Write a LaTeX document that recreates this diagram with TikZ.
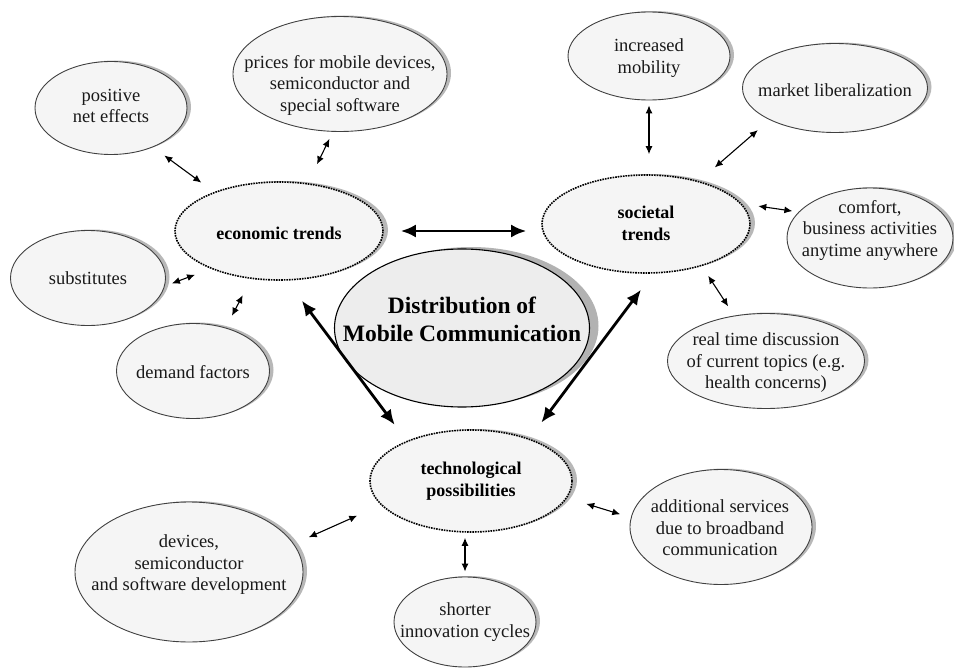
\documentclass[tikz,border=0pt]{standalone}
\usepackage{fontspec}
\setmainfont{Liberation Serif}
\usetikzlibrary{shapes.geometric,arrows.meta,shadows}
\begin{document}
\begin{tikzpicture}[x=1pt,y=-1pt,
  bubble/.style={ellipse, draw=black!75, line width=0.9pt, fill=black!4, inner sep=0pt,
    general shadow={fill=black!28, shadow xshift=4pt, shadow yshift=1pt}},
  trendbubble/.style={ellipse, draw=black, densely dotted, line width=1.6pt, fill=black!4, inner sep=0pt,
    general shadow={fill=black!28, shadow xshift=5pt, shadow yshift=1pt}},
  hub/.style={ellipse, draw=black, line width=1.1pt, fill=black!7, inner sep=0pt,
    general shadow={fill=black!30, shadow xshift=9pt, shadow yshift=2pt}},
  lbl/.style={align=center, inner sep=0pt, text=black!90, font=\fontsize{18.5}{21.5}\selectfont},
  trendlbl/.style={align=center, inner sep=0pt, text=black, font=\bfseries\fontsize{18}{22}\selectfont},
  hublbl/.style={align=center, inner sep=0pt, text=black, font=\bfseries\fontsize{23.5}{28}\selectfont},
  link/.style={{Latex[length=8pt,width=7pt]}-{Latex[length=8pt,width=7pt]}, line width=1.1pt},
  mainlink/.style={{Latex[length=15pt,width=13pt]}-{Latex[length=15pt,width=13pt]}, line width=2.8pt},
]
\useasboundingbox (0,0) rectangle (954,669);

% central topic
\node[hub, minimum width=255pt, minimum height=158pt] (hubnode) at (462,328) {};
\node[hublbl] (hubtext) at (462,319) {Distribution of\\Mobile Communication};

% the three trend groups
\node[trendbubble, minimum width=208pt, minimum height=98pt] (eco) at (279,231) {};
\node[trendlbl] (ecotext) at (279,233) {economic trends};
\node[trendbubble, minimum width=208pt, minimum height=98pt] (soc) at (646,224) {};
\node[trendlbl] (soctext) at (646,223) {societal\\trends};
\node[trendbubble, minimum width=202pt, minimum height=102pt] (tech) at (471,481) {};
\node[trendlbl] (techtext) at (471,481) {technological\\possibilities};

% economic factors
\node[bubble, minimum width=152pt, minimum height=93pt] (pos) at (111,108) {};
\node[lbl] (postext) at (111,106) {positive\\net effects};
\node[bubble, minimum width=214pt, minimum height=115pt] (pri) at (340,74) {};
\node[lbl] (pritext) at (340,85) {prices for mobile devices,\\semiconductor and\\special software};
\node[bubble, minimum width=155pt, minimum height=95pt] (sub) at (88,278) {};
\node[lbl] (subtext) at (88,278) {substitutes};
\node[bubble, minimum width=153pt, minimum height=95pt] (dem) at (193,371) {};
\node[lbl] (demtext) at (193,372) {demand factors};

% societal factors
\node[bubble, minimum width=162pt, minimum height=88pt] (mob) at (649,56) {};
\node[lbl] (mobtext) at (649,58) {increased\\mobility};
\node[bubble, minimum width=185pt, minimum height=89pt] (mkt) at (835,88) {};
\node[lbl] (mkttext) at (835,90) {market liberalization};
\node[bubble, minimum width=166pt, minimum height=100pt] (com) at (870,238) {};
\node[lbl] (comtext) at (870,230) {comfort,\\business activities\\anytime anywhere};
\node[bubble, minimum width=197pt, minimum height=95pt] (rt) at (766,361) {};
\node[lbl] (rttext) at (766,363) {real time discussion\\of current topics (e.g.\\health concerns)};

% technological factors
\node[bubble, minimum width=228pt, minimum height=140pt] (dev) at (189,572) {};
\node[lbl] (devtext) at (189,565) {devices,\\semiconductor\\and software development};
\node[bubble, minimum width=182pt, minimum height=115pt] (add) at (721,527) {};
\node[lbl] (addtext) at (720,528) {additional services\\due to broadband\\communication};
\node[bubble, minimum width=142pt, minimum height=90pt] (sho) at (465,622) {};
\node[lbl] (shotext) at (465,622) {shorter\\innovation cycles};

% links between the trend groups
\draw[mainlink, shorten <=17pt, shorten >=15pt] (eco.east) -- (soc.west |- eco.east);
\draw[mainlink, shorten <=25pt, shorten >=20pt] (eco.-81.5) -- (tech.148.4);
\draw[mainlink, shorten <=20pt, shorten >=20pt] (soc.-82) -- (tech.36.5);

% economic links
\draw[link, shorten <=14pt, shorten >=15.7pt] (pos.-43.9) -- (eco.149.8);
\draw[link, shorten <=7.8pt, shorten >=20.9pt] (pri.-97.9) -- (eco.59);
\draw[link, shorten <=7.6pt, shorten >=16.8pt] (sub.-6.1) -- (eco.209.6);
\draw[link, shorten <=13.4pt, shorten >=18.3pt] (dem.53.5) -- (eco.-120.4);

% societal links
\draw[link, shorten <=5pt, shorten >=20pt] (mob.south) -- (mob.south |- soc.north);
\draw[link, shorten <=15.5pt, shorten >=20.8pt] (mkt.206.6) -- (soc.39.9);
\draw[link, shorten <=6.2pt, shorten >=16.8pt] (com.160) -- (soc.12.2);
\draw[link, shorten <=11pt, shorten >=11.5pt] (rt.125.1) -- (soc.-37.9);

% technological links
\draw[link, shorten <=16.2pt, shorten >=25.9pt] (dev.15.9) -- (tech.195.2);
\draw[link, shorten <=5pt, shorten >=5pt] (sho.north) -- (sho.north |- tech.south);
\draw[link, shorten <=19.9pt, shorten >=11pt] (tech.-10.9) -- (add.174.3);
\end{tikzpicture}
\end{document}
